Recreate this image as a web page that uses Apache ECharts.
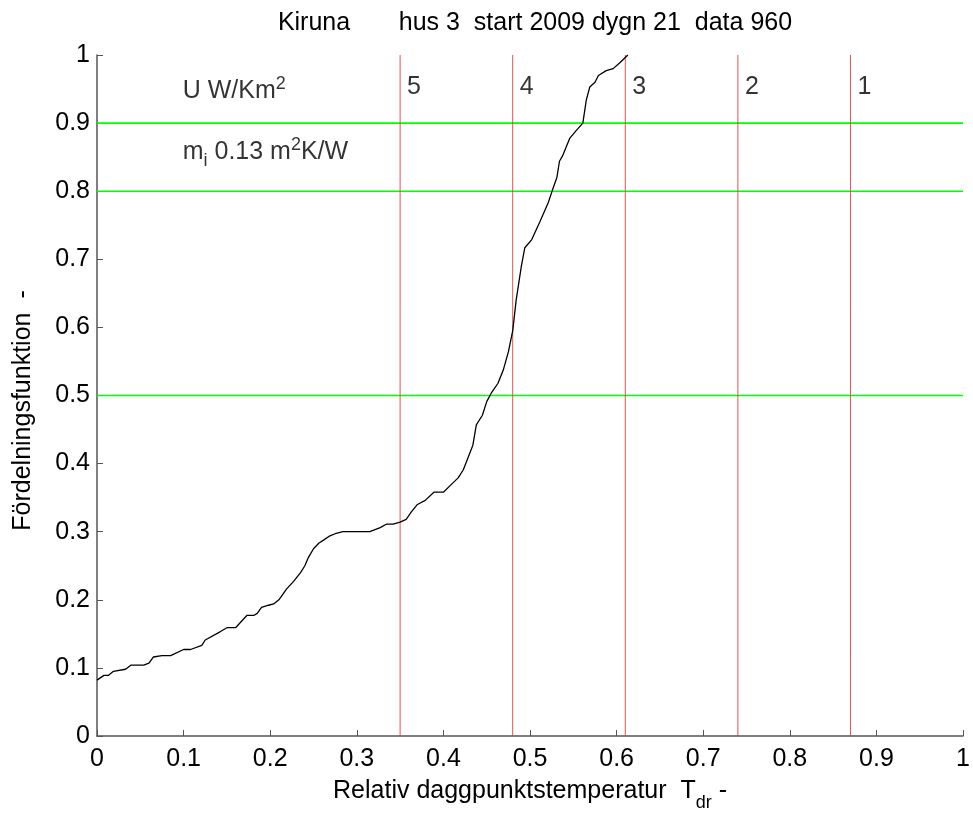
<!DOCTYPE html>
<html>
<head>
<meta charset="utf-8">
<script src="https://cdn.jsdelivr.net/npm/echarts@6/dist/echarts.min.js"></script>
<style>
html,body{margin:0;padding:0;background:#fff;}
#chart{width:973px;height:817px;}
</style>
</head>
<body>
<div id="chart"></div>
<script>
const titleText = 'Kiruna       hus 3  start 2009 dygn 21  data 960';
const xAxisName = 'Relativ daggpunktstemperatur  T';
const yAxisName = 'Fördelningsfunktion  -';

// Cumulative distribution curve
const curveX = [0, 0.008, 0.013, 0.019, 0.033, 0.039, 0.054, 0.060, 0.065, 0.075, 0.085, 0.100, 0.108, 0.121, 0.125, 0.142, 0.150, 0.160, 0.173, 0.181, 0.185, 0.190, 0.198, 0.204, 0.210, 0.219, 0.227, 0.235, 0.240, 0.244, 0.250, 0.256, 0.262, 0.269, 0.275, 0.284, 0.315, 0.327, 0.334, 0.342, 0.350, 0.357, 0.363, 0.370, 0.379, 0.389, 0.400, 0.408, 0.417, 0.423, 0.434, 0.438, 0.445, 0.450, 0.455, 0.463, 0.469, 0.475, 0.480, 0.484, 0.490, 0.494, 0.502, 0.511, 0.521, 0.526, 0.531, 0.534, 0.538, 0.546, 0.554, 0.561, 0.565, 0.569, 0.575, 0.579, 0.588, 0.596, 0.604, 0.613];
const curveY = [0.082, 0.089, 0.089, 0.095, 0.098, 0.104, 0.104, 0.107, 0.116, 0.118, 0.118, 0.127, 0.127, 0.133, 0.141, 0.153, 0.159, 0.159, 0.177, 0.177, 0.180, 0.189, 0.192, 0.194, 0.200, 0.216, 0.227, 0.240, 0.250, 0.262, 0.275, 0.283, 0.288, 0.294, 0.297, 0.300, 0.300, 0.306, 0.311, 0.311, 0.314, 0.318, 0.329, 0.340, 0.346, 0.358, 0.358, 0.368, 0.379, 0.391, 0.427, 0.457, 0.471, 0.491, 0.503, 0.518, 0.537, 0.564, 0.595, 0.640, 0.690, 0.717, 0.729, 0.754, 0.783, 0.802, 0.820, 0.844, 0.853, 0.878, 0.890, 0.900, 0.934, 0.953, 0.960, 0.970, 0.977, 0.980, 0.989, 1.000];

// Zone boundaries (vertical) and their labels
const zoneX = [0.35, 0.48, 0.61, 0.74, 0.87];
const zoneLabels = ['5', '4', '3', '2', '1'];
const zoneLabelY = 0.953;

// Horizontal reference levels
const levelY = [0.5, 0.8, 0.9];

// Annotations
const noteX = 0.099;
const noteY = [0.947, 0.857];

const FONT = '"Liberation Sans", Arial, Helvetica, sans-serif';
const FS = 25;

const series = [];
levelY.forEach(function (y) {
  series.push({
    type: 'line', data: [[0, y], [1, y]], symbol: 'none', silent: true,
    lineStyle: { color: '#00ff00', width: 1.6 }, z: 2
  });
});
zoneX.forEach(function (x) {
  series.push({
    type: 'line', data: [[x, 0], [x, 1]], symbol: 'none', silent: true,
    lineStyle: { color: 'rgba(228,50,50,0.85)', width: 1 }, z: 3
  });
});
series.push({
  type: 'line', data: curveX.map(function (x, i) { return [x, curveY[i]]; }),
  symbol: 'none', lineStyle: { color: '#000', width: 1.3 }, z: 5
});
series.push({
  type: 'scatter', symbolSize: 0, silent: true,
  data: zoneX.map(function (x, i) { return { value: [x, zoneLabelY], name: zoneLabels[i] }; }),
  label: { show: true, position: 'right', distance: 7, formatter: '{b}', color: '#000', fontFamily: FONT, fontSize: FS },
  itemStyle: { color: 'transparent' }, z: 6
});
const rich = {
  a: { fontSize: FS, fontFamily: FONT, color: '#000', verticalAlign: 'middle' },
  sup: { fontSize: 18, fontFamily: FONT, color: '#000', verticalAlign: 'middle', padding: [0, 0, 14, 0] },
  sub: { fontSize: 18, fontFamily: FONT, color: '#000', verticalAlign: 'middle', padding: [18, 0, 0, 0] }
};
const richX = {
  a: { fontSize: FS, fontFamily: FONT, color: '#000', verticalAlign: 'middle' },
  sub: { fontSize: 18, fontFamily: FONT, color: '#000', verticalAlign: 'middle', padding: [24, 0, 0, 0] }
};
series.push({
  type: 'scatter', symbolSize: 0, silent: true,
  data: [
    { value: [noteX, noteY[0]], name: 'u' },
    { value: [noteX, noteY[1]], name: 'm' }
  ],
  label: {
    show: true, position: 'right', distance: 0,
    formatter: function (p) {
      return p.name === 'u' ? '{a|U W/Km}{sup|2}' : '{a|m}{sub|i}{a| 0.13 m}{sup|2}{a|K/W}';
    },
    rich: rich
  },
  itemStyle: { color: 'transparent' }, z: 6
});

const chart = echarts.init(document.getElementById('chart'), null, { renderer: 'canvas' });
chart.setOption({
  animation: false,
  backgroundColor: '#fff',
  title: {
    text: titleText, left: 530, top: 6, textAlign: 'center',
    textStyle: { fontFamily: FONT, fontSize: FS, fontWeight: 'normal', color: '#000' }
  },
  grid: { left: 97, right: 9, top: 55, bottom: 78, containLabel: false },
  xAxis: {
    type: 'value', min: 0, max: 1, interval: 0.1,
    name: '{a|' + xAxisName + '}{sub|dr}{a| -}', nameLocation: 'middle', nameGap: 34,
    nameTextStyle: { rich: richX },
    axisLine: { lineStyle: { color: '#555', width: 1.5 } },
    axisTick: { inside: true, length: 6, lineStyle: { color: '#555' } },
    axisLabel: { color: '#000', fontFamily: FONT, fontSize: FS, margin: 11,
      formatter: function (v) { return String(Math.round(v * 10) / 10); } },
    splitLine: { show: false }
  },
  yAxis: {
    type: 'value', min: 0, max: 1, interval: 0.1,
    name: yAxisName, nameLocation: 'middle', nameGap: 61,
    nameTextStyle: { color: '#000', fontFamily: FONT, fontSize: FS, padding: [0, 30, 0, 0] },
    axisLine: { lineStyle: { color: '#555', width: 1.5 } },
    axisTick: { inside: true, length: 6, lineStyle: { color: '#555' } },
    axisLabel: { color: '#000', fontFamily: FONT, fontSize: FS, margin: 7,
      formatter: function (v) { return String(Math.round(v * 10) / 10); } },
    splitLine: { show: false }
  },
  series: series
});
</script>
</body>
</html>
